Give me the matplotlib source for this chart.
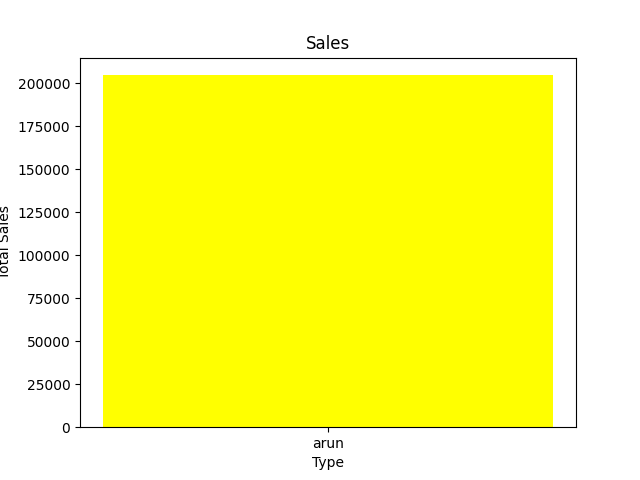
import matplotlib
matplotlib.use('Agg')
import matplotlib.pyplot as plt

types = ['arun']
total_sales = [204600]

plt.figure(figsize=(6.4, 4.8))
plt.bar(types, total_sales, color='yellow')
plt.title('Sales')
plt.xlabel('Type')
plt.ylabel('Total Sales')
plt.savefig('out.png', dpi=100)
